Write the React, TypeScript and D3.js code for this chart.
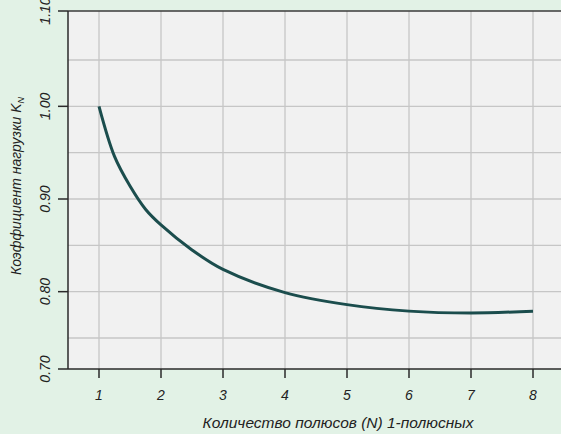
import * as d3 from 'd3';
import React, { useEffect, useRef } from 'react';

// poles count and load factor
const poles = [1, 1.25, 1.5, 1.75, 2, 2.5, 3, 4, 5, 6, 7, 8];
const loadFactor = [1.0, 0.946, 0.914, 0.889, 0.872, 0.845, 0.824, 0.799, 0.786, 0.779, 0.777, 0.779];

const xTicks = [1, 2, 3, 4, 5, 6, 7, 8];
const yTicks = [0.7, 0.8, 0.9, 1.0, 1.1];
const yGrid = [0.75, 0.8, 0.85, 0.9, 0.95, 1.0, 1.05];

const W = 561;
const H = 434;

const App: React.FC = () => {
    const svgRef = useRef<SVGSVGElement | null>(null);

    useEffect(() => {
        const svg = d3.select(svgRef.current);
        svg.selectAll('*').remove();

        const left = 68;
        const right = 564;
        const top = 11;
        const bottom = 369;

        const x = d3.scaleLinear().domain([0.5, 8.5]).range([left, right]);
        // the original axis is not evenly spaced at its ends
        const y = d3.scaleLinear().domain([0.7, 0.75, 1.05, 1.1]).range([bottom, 338, 60, top]);

        const font = '"Liberation Sans", Arial, sans-serif';

        svg.append('rect').attr('width', W).attr('height', H).attr('fill', '#e2f2e6');
        svg.append('rect')
            .attr('x', left).attr('y', top)
            .attr('width', W - left).attr('height', bottom - top)
            .attr('fill', '#f1f1f1');

        // grid
        svg.append('g').selectAll('line')
            .data(yGrid)
            .enter()
            .append('line')
            .attr('x1', left).attr('x2', W)
            .attr('y1', d => y(d)).attr('y2', d => y(d))
            .attr('stroke', '#c6c6c6').attr('stroke-width', 1.3);

        svg.append('g').selectAll('line')
            .data(xTicks)
            .enter()
            .append('line')
            .attr('x1', d => x(d)).attr('x2', d => x(d))
            .attr('y1', top).attr('y2', bottom)
            .attr('stroke', '#c6c6c6').attr('stroke-width', 1.3);

        // axes lines
        svg.append('line').attr('x1', left).attr('x2', W).attr('y1', top).attr('y2', top)
            .attr('stroke', '#3a3a3a').attr('stroke-width', 1.5);
        svg.append('line').attr('x1', left).attr('x2', W).attr('y1', bottom).attr('y2', bottom)
            .attr('stroke', '#2a2a2a').attr('stroke-width', 1.5);
        svg.append('line').attr('x1', left).attr('x2', left).attr('y1', top).attr('y2', bottom)
            .attr('stroke', '#2a2a2a').attr('stroke-width', 1.5);

        // x ticks
        const xg = svg.append('g');
        xg.selectAll('line')
            .data(xTicks)
            .enter()
            .append('line')
            .attr('x1', d => x(d)).attr('x2', d => x(d))
            .attr('y1', bottom).attr('y2', bottom + 9)
            .attr('stroke', '#2a2a2a').attr('stroke-width', 1.5);
        xg.selectAll('text')
            .data(xTicks)
            .enter()
            .append('text')
            .attr('x', d => x(d))
            .attr('y', 400)
            .attr('text-anchor', 'middle')
            .attr('font-family', font)
            .attr('font-style', 'italic')
            .attr('font-size', 14)
            .attr('fill', '#222')
            .text(d => String(d));

        // y ticks
        const yg = svg.append('g');
        yg.selectAll('line')
            .data(yTicks)
            .enter()
            .append('line')
            .attr('x1', left - 10).attr('x2', left)
            .attr('y1', d => y(d)).attr('y2', d => y(d))
            .attr('stroke', '#2a2a2a').attr('stroke-width', 1.5);
        yg.selectAll('text')
            .data(yTicks)
            .enter()
            .append('text')
            .attr('transform', d => `translate(50,${y(d)}) rotate(-90)`)
            .attr('text-anchor', 'middle')
            .attr('font-family', font)
            .attr('font-style', 'italic')
            .attr('font-size', 14)
            .attr('fill', '#222')
            .text(d => d.toFixed(2));

        // titles
        const yt = svg.append('text')
            .attr('transform', `translate(21,${186}) rotate(-90)`)
            .attr('text-anchor', 'middle')
            .attr('font-family', font)
            .attr('font-style', 'italic')
            .attr('font-size', 14)
            .attr('fill', '#222');
        yt.append('tspan').text('Коэффициент нагрузки K');
        yt.append('tspan').attr('font-size', 9).attr('dy', 3).text('N');

        svg.append('text')
            .attr('x', 338)
            .attr('y', 428)
            .attr('text-anchor', 'middle')
            .attr('font-family', font)
            .attr('font-style', 'italic')
            .attr('font-size', 15.5)
            .attr('fill', '#222')
            .text('Количество полюсов (N) 1-полюсных');

        // curve
        const line = d3.line<number>()
            .x((_, i) => x(poles[i]))
            .y(d => y(d))
            .curve(d3.curveCatmullRom.alpha(0.5));

        svg.append('path')
            .datum(loadFactor)
            .attr('d', line)
            .attr('fill', 'none')
            .attr('stroke', '#1b4d4d')
            .attr('stroke-width', 3);
    }, []);

    return (
        <svg
            ref={svgRef}
            width={W}
            height={H}
            style={{ position: 'absolute', left: 0, top: 0 }}
        />
    );
};

export default App;
